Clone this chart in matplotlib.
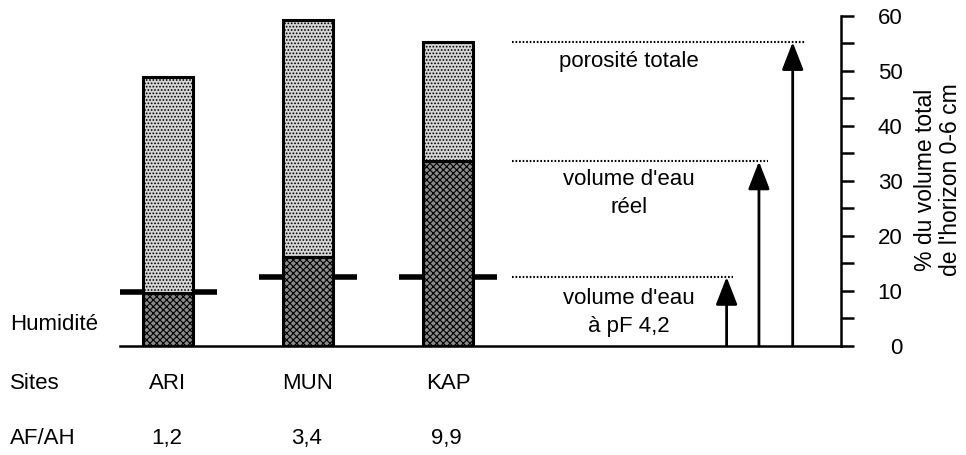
import matplotlib
matplotlib.use("Agg")
import matplotlib.pyplot as plt

plt.rcParams['font.family'] = ['Liberation Sans', 'DejaVu Sans']
plt.rcParams['hatch.linewidth'] = 0.8

# Sites and measured volumes (% of total volume, horizon 0-6 cm)
sites = ['ARI', 'MUN', 'KAP']
af_ah = ['1,2', '3,4', '9,9']
porosite_totale = [48.9, 59.2, 55.2]
volume_eau_reel = [9.6, 16.2, 33.5]
volume_eau_pf42 = [9.8, 12.5, 12.5]
y_ticks = [0, 10, 20, 30, 40, 50, 60]

ref_labels = ['volume d\'eau\nà pF 4,2', 'volume d\'eau\nréel', 'porosité totale']
ref_values = [volume_eau_pf42[2], volume_eau_reel[2], porosite_totale[2]]

FS = 16

fig = plt.figure(figsize=(9.66, 4.55), dpi=100)
ax = fig.add_axes([0.1242, 0.2402, 0.8703 - 0.1242, 0.9655 - 0.2402])

x = list(range(len(sites)))
bar_w = 0.357

# humidity markers (behind the bars)
for xi, h in zip(x, volume_eau_pf42):
    ax.plot([xi - 0.35, xi + 0.35], [h, h], color='black', lw=4.0,
            solid_capstyle='butt', zorder=1)

# lower part: actual water volume, upper part: remaining porosity
ax.bar(x, volume_eau_reel, width=bar_w, color='#8a8a8a', edgecolor='black',
       linewidth=2.2, hatch='xxxxx', zorder=2)
upper = [t - w for t, w in zip(porosite_totale, volume_eau_reel)]
ax.bar(x, upper, bottom=volume_eau_reel, width=bar_w, color='#d6d6d6',
       edgecolor='black', linewidth=2.2, hatch='.....', zorder=2)

# reference levels with arrows on the right
dot_start = 2.457
arrow_x = [3.99, 4.221, 4.462]
dot_end = [4.036, 4.286, 4.55]
label_y = [[8.6, 3.5], [30.2, 25.1], [51.6]]
label_x = 3.29
for ax_x, de, val in zip(arrow_x, dot_end, ref_values):
    ax.plot([dot_start, de], [val, val], color='black', lw=1.5,
            linestyle=(0, (0.8, 0.9)), zorder=3)
    ax.annotate('', xy=(ax_x, val), xytext=(ax_x, 0),
                arrowprops=dict(arrowstyle='-|>,head_length=0.85,head_width=0.33',
                                mutation_scale=20, lw=2.0, color='black',
                                shrinkA=0, shrinkB=0), zorder=3)
for lab, ys in zip(ref_labels, label_y):
    for line, yy in zip(lab.split('\n'), ys):
        ax.text(label_x, yy, line, ha='center', va='center', fontsize=FS)

ax.set_xlim(-0.343, 4.805)
ax.set_ylim(0, 60)

for s in ['left', 'top']:
    ax.spines[s].set_visible(False)
ax.spines['bottom'].set_linewidth(1.8)
ax.spines['right'].set_linewidth(1.8)

ax.set_xticks([])
ax.yaxis.tick_right()
ax.set_yticks(y_ticks)
ax.set_yticks([5, 15, 25, 35, 45, 55], minor=True)
ax.tick_params(axis='y', which='major', length=9.5, width=1.8, direction='out',
               pad=35, labelsize=FS)
ax.tick_params(axis='y', which='minor', length=9.5, width=1.8, direction='out')
for lbl in ax.get_yticklabels():
    lbl.set_horizontalalignment('right')

fig.text(938 / 966, 1 - 180 / 455, '% du volume total\nde l\'horizon 0-6 cm',
         rotation=90, ha='center', va='center', multialignment='center',
         fontsize=16.5, linespacing=1.1)

# row labels under the chart
left_x = -1.129
ax.text(left_x, 3.9, 'Humidité', ha='left', va='center', fontsize=FS, clip_on=False)
ax.text(left_x, -6.96, 'Sites', ha='left', va='center', fontsize=FS, clip_on=False)
ax.text(left_x, -16.8, 'AF/AH', ha='left', va='center', fontsize=FS, clip_on=False)
for xi, s, r in zip(x, sites, af_ah):
    ax.text(xi, -6.96, s, ha='center', va='center', fontsize=FS, clip_on=False)
    ax.text(xi - 0.01, -16.8, r, ha='center', va='center', fontsize=FS, clip_on=False)

fig.savefig('out.png', dpi=100)
